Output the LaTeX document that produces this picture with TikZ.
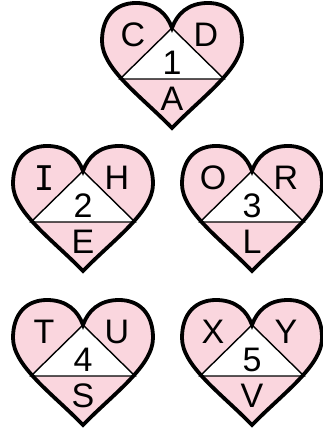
\documentclass[tikz,border=0pt]{standalone}
\usepackage{fontspec}
\setmainfont{Liberation Sans}
\newfontfamily\slabI{DejaVu Sans Mono}
\definecolor{heartpink}{RGB}{250,214,222}
\tikzset{
  heartshape/.style={insert path={(0,-125) .. controls (-30,-94) and (-70,-66) .. (-70,-38)
      .. controls (-70,-13) and (-56,0) .. (-36,0)
      .. controls (-16,0) and (-5,-11) .. (0,-25)
      .. controls (5,-11) and (16,0) .. (36,0)
      .. controls (56,0) and (70,-13) .. (70,-38)
      .. controls (70,-66) and (30,-94) .. (0,-125) -- cycle}},
  heartline/.style={line width=3.8pt},
  innerline/.style={line width=1.4pt},
  letter/.style={font=\fontsize{34}{34}\selectfont, inner sep=0pt}
}
% ハート: x, y(上端), 名前, 左上, 右上, 中, 下
\newcommand{\heartcard}[7]{%
  \begin{scope}[shift={(#1,#2)}]
    \fill[heartpink, heartshape];
    \fill[white] (0,-25) -- (-52,-76) -- (52,-76) -- cycle;
    \draw[innerline] (-52,-76) -- (0,-25) -- (52,-76) -- cycle;
    \draw[heartline, heartshape];
    \node[letter] (#3tl) at (-39,-32) {#4};
    \node[letter] (#3tr) at (34,-32) {#5};
    \node[letter] (#3mid) at (0,-60) {#6};
    \node[letter] (#3bot) at (0,-96) {#7};
  \end{scope}}
\begin{document}
\begin{tikzpicture}[x=1pt, y=1pt]
  \useasboundingbox (0,0) rectangle (322,430);
  % 上段
  \heartcard{172}{427}{hA}{C}{D}{1}{A}
  % 中段
  \heartcard{83}{284}{hB}{\slabI I}{H}{2}{E}
  \heartcard{252}{284}{hC}{O}{R}{3}{L}
  % 下段
  \heartcard{83}{130}{hD}{T}{U}{4}{S}
  \heartcard{252}{130}{hE}{X}{Y}{5}{V}
\end{tikzpicture}
\end{document}
